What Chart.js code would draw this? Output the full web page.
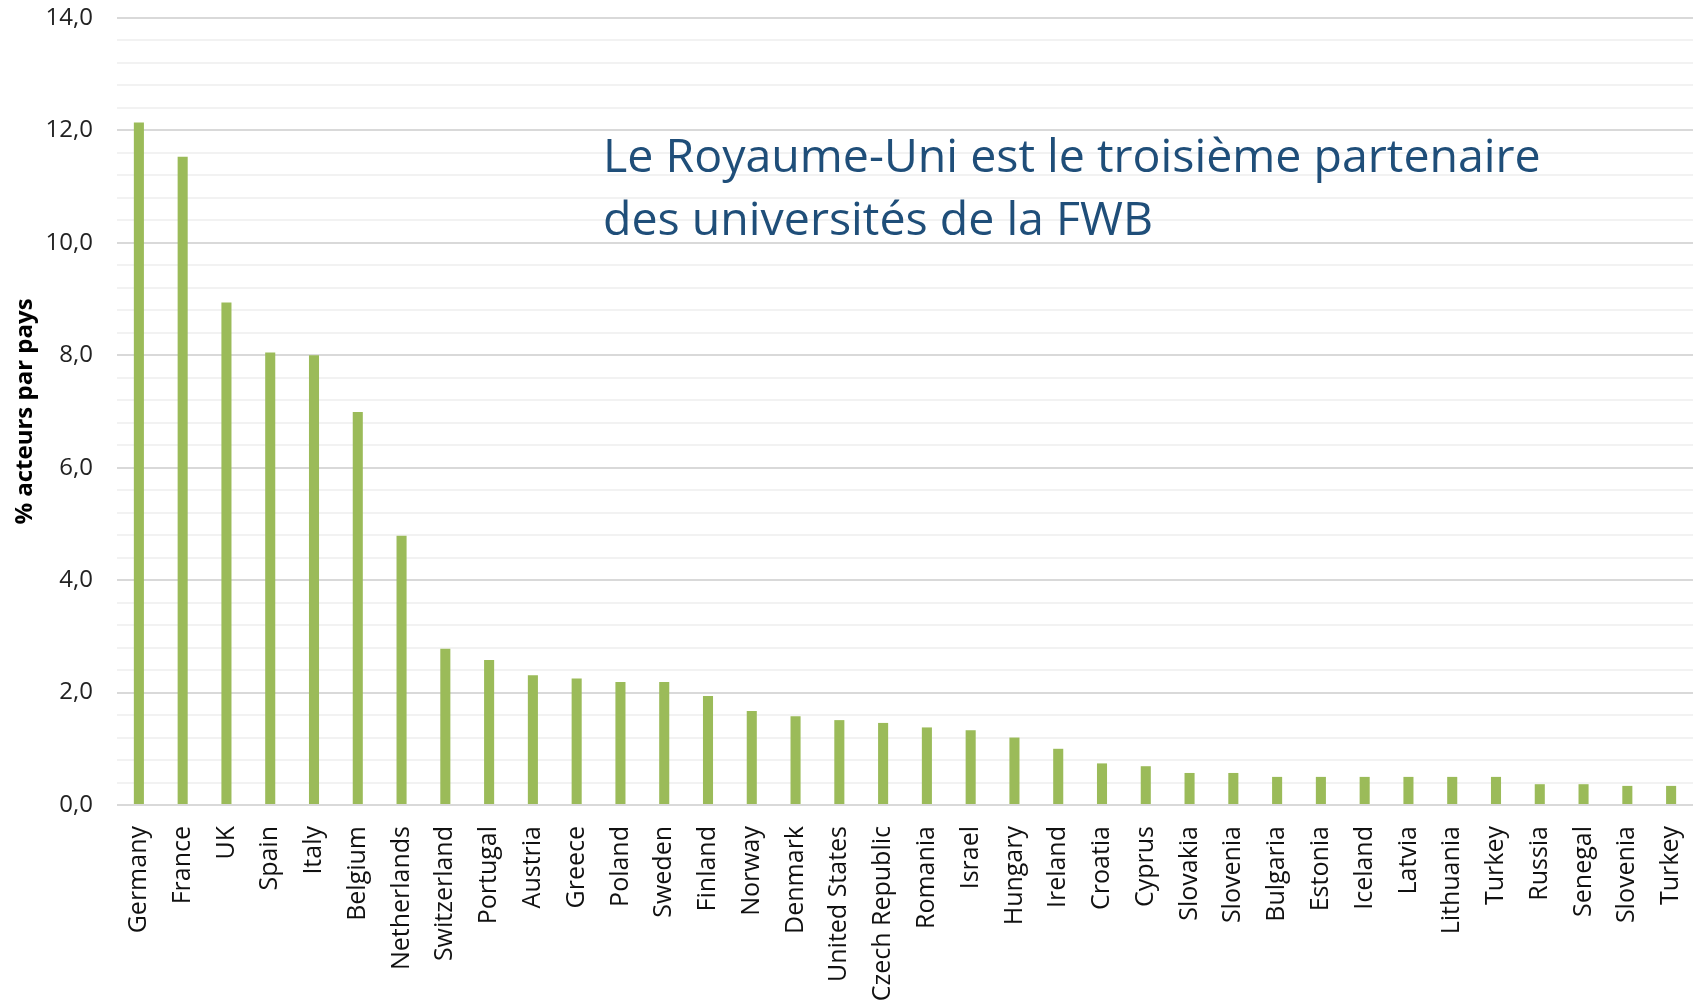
<!DOCTYPE html>
<html>
<head>
<meta charset="utf-8">
<script src="https://cdn.jsdelivr.net/npm/chart.js@4/dist/chart.umd.min.js"></script>
<style>
    body { margin: 0; padding: 0; background: #fff; overflow: hidden; }
    #wrap { width: 1702px; height: 1005px; }
</style>
</head>
<body>
<div id="wrap"><canvas id="chartCanvas" width="1702" height="1005"></canvas></div>
<script>
const countries = [
    'Germany', 'France', 'UK', 'Spain', 'Italy', 'Belgium', 'Netherlands', 'Switzerland',
    'Portugal', 'Austria', 'Greece', 'Poland', 'Sweden', 'Finland', 'Norway', 'Denmark',
    'United States', 'Czech Republic', 'Romania', 'Israel', 'Hungary', 'Ireland', 'Croatia',
    'Cyprus', 'Slovakia', 'Slovenia', 'Bulgaria', 'Estonia', 'Iceland', 'Latvia', 'Lithuania',
    'Turkey', 'Russia', 'Senegal', 'Slovenia', 'Turkey',
];

const shares = [
    12.14, 11.53, 8.94, 8.05, 8.0, 6.99, 4.79, 2.78,
    2.58, 2.31, 2.25, 2.19, 2.19, 1.94, 1.67, 1.58,
    1.51, 1.46, 1.38, 1.33, 1.20, 1.0, 0.74,
    0.69, 0.57, 0.57, 0.50, 0.50, 0.50, 0.50, 0.50,
    0.50, 0.37, 0.37, 0.34, 0.34,
];

const yTitle = '% acteurs par pays';
const headline = ['Le Royaume-Uni est le troisième partenaire', 'des universités de la FWB'];

const FONT = '"Open Sans", "Noto Sans", sans-serif';

// Text drawn inside the plot area, like the callout in the original
const headlinePlugin = {
    id: 'headline',
    afterDraw: (chart) => {
        const ctx = chart.ctx;
        ctx.save();
        ctx.fillStyle = '#1f4e79';
        ctx.font = `46.5px ${FONT}`;
        ctx.textBaseline = 'alphabetic';
        ctx.fillText(headline[0], 603, 172);
        ctx.fillText(headline[1], 603, 235);
        ctx.restore();
    },
};

const isMajor = (value) => Math.round(value * 10) % 20 === 0;

const ctx = document.getElementById('chartCanvas').getContext('2d');
new Chart(ctx, {
    type: 'bar',
    data: {
        labels: countries,
        datasets: [{
            data: shares,
            backgroundColor: '#9bbb59',
            barPercentage: 0.23,
            categoryPercentage: 1.0,
        }],
    },
    options: {
        responsive: false,
        animation: false,
        layout: { padding: { top: 18, right: 9, left: 0, bottom: 0 } },
        plugins: {
            legend: { display: false },
            tooltip: { enabled: false },
        },
        scales: {
            x: {
                grid: { display: false, drawTicks: false },
                border: { display: false },
                ticks: {
                    color: '#111',
                    font: { family: FONT, size: 25 },
                    minRotation: 90,
                    maxRotation: 90,
                    autoSkip: false,
                    padding: 21,
                },
                afterFit: (scale) => {
                    scale.height = 200;
                    scale.paddingLeft = 0;
                    scale.paddingRight = 0;
                },
            },
            y: {
                min: 0,
                max: 14,
                border: { display: false },
                grid: {
                    drawTicks: false,
                    lineWidth: 2,
                    color: (c) => (isMajor(c.tick.value) ? '#d9d9d9' : '#f2f2f2'),
                },
                ticks: {
                    stepSize: 0.4,
                    autoSkip: false,
                    color: '#222',
                    font: { family: FONT, size: 24 },
                    padding: 24,
                    callback: (value) => (isMajor(value) ? value.toFixed(1).replace('.', ',') : ''),
                },
                title: {
                    display: true,
                    text: yTitle,
                    color: '#000',
                    font: { family: FONT, size: 24, weight: 'bold' },
                    padding: { top: 11, bottom: 0 },
                },
                afterFit: (scale) => {
                    scale.width = 117;
                    scale.paddingTop = 0;
                    scale.paddingBottom = 0;
                },
            },
        },
    },
    plugins: [headlinePlugin],
});
</script>
</body>
</html>
